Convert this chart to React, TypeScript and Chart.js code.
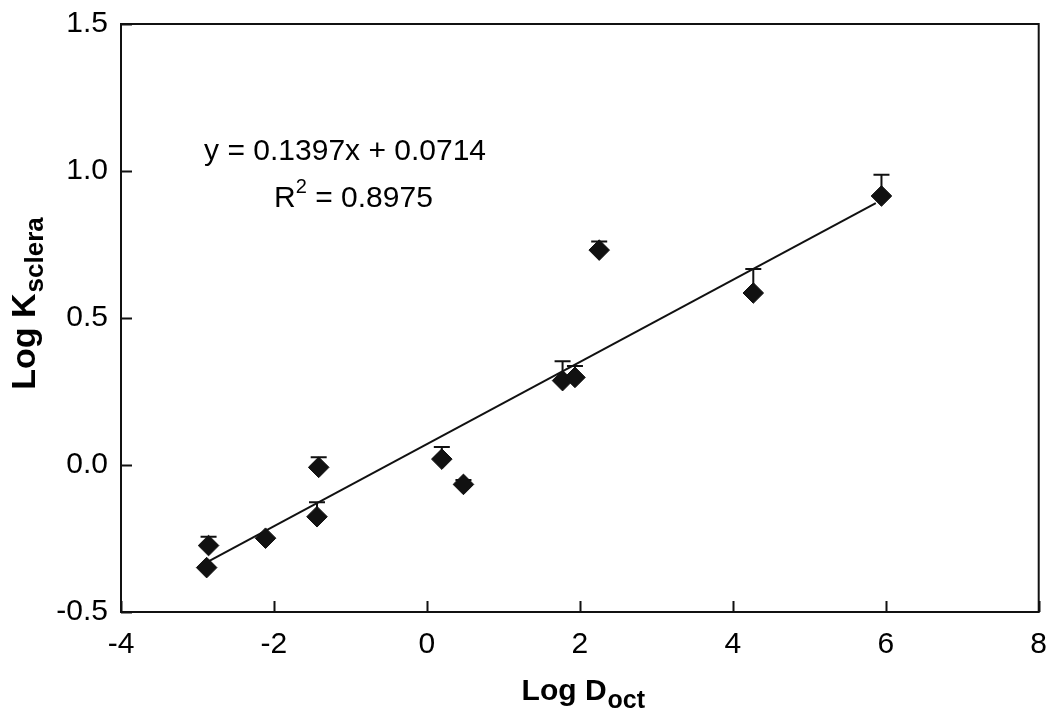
import React, { useEffect, useRef } from "react";
import { Chart, registerables } from "chart.js";

Chart.register(...registerables);

// ---- data ----
const pointsX = [-2.88, -2.855, -2.11, -1.437, -1.415, 0.195, 0.478, 1.774, 1.936, 2.253, 4.268, 5.944];
const pointsY = [-0.349, -0.274, -0.249, -0.176, -0.008, 0.02, -0.066, 0.287, 0.298, 0.731, 0.585, 0.915];
const errorTop: (number | null)[] = [null, -0.244, null, -0.127, 0.026, 0.061, -0.051, 0.353, 0.337, 0.76, 0.667, 0.987];
const trendX = [-2.85, 5.87];
const trendY = [-0.327, 0.891];
const xTicks = [-4, -2, 0, 2, 4, 6, 8];
const yTicks = [-0.5, 0, 0.5, 1.0, 1.5];
const equationText = "y = 0.1397x + 0.0714";
const r2Text = " = 0.8975";
const xTitleMain = "Log D";
const xTitleSub = "oct";
const yTitleMain = "Log K";
const yTitleSub = "sclera";

// ---- layout / style constants ----
const FONT = '"Liberation Sans", Arial, Helvetica, sans-serif';
const INK = "#111111";
const EQ_CENTER = { x: -1.07, y: 1.037 };
const R2_CENTER = { x: -0.96, y: 0.877 };

const zeroPad = (s: any) => {
  s.paddingLeft = 0;
  s.paddingRight = 0;
  s.paddingTop = 0;
  s.paddingBottom = 0;
};

const decorPlugin = {
  id: "decor",
  beforeDatasetsDraw(chart: any) {
    const ctx = chart.ctx;
    const xs = chart.scales.x;
    const ys = chart.scales.y;
    ctx.save();
    ctx.strokeStyle = INK;
    ctx.lineWidth = 2;
    for (let i = 0; i < pointsX.length; i++) {
      const top = errorTop[i];
      if (top === null) continue;
      const px = xs.getPixelForValue(pointsX[i]);
      const py = ys.getPixelForValue(pointsY[i]);
      const pt = ys.getPixelForValue(top);
      ctx.beginPath();
      ctx.moveTo(px, py);
      ctx.lineTo(px, pt);
      ctx.moveTo(px - 8, pt);
      ctx.lineTo(px + 8, pt);
      ctx.stroke();
    }
    ctx.restore();
  },
  afterDraw(chart: any) {
    const ctx = chart.ctx;
    const a = chart.chartArea;
    const xs = chart.scales.x;
    const ys = chart.scales.y;
    ctx.save();
    ctx.strokeStyle = INK;
    ctx.lineWidth = 2;
    ctx.strokeRect(a.left, a.top, a.right - a.left, a.bottom - a.top);
    // inward tick marks
    ctx.beginPath();
    for (const t of xs.ticks) {
      const px = Math.round(xs.getPixelForValue(t.value)) + 0.5;
      ctx.moveTo(px, a.bottom);
      ctx.lineTo(px, a.bottom - 11);
    }
    for (const t of ys.ticks) {
      const py = Math.round(ys.getPixelForValue(t.value)) + 0.5;
      ctx.moveTo(a.left, py);
      ctx.lineTo(a.left + 11, py);
    }
    ctx.stroke();

    ctx.fillStyle = "#000";
    ctx.textBaseline = "alphabetic";
    ctx.textAlign = "left";

    // x title
    ctx.font = `bold 30px ${FONT}`;
    const xw1 = ctx.measureText(xTitleMain).width;
    ctx.font = `bold 25px ${FONT}`;
    const xw2 = ctx.measureText(xTitleSub).width;
    const xc = (a.left + a.right) / 2 + 3;
    const xs0 = xc - (xw1 + xw2) / 2;
    ctx.font = `bold 30px ${FONT}`;
    ctx.fillText(xTitleMain, xs0, 700);
    ctx.font = `bold 25px ${FONT}`;
    ctx.fillText(xTitleSub, xs0 + xw1 + 1, 708);

    // y title (rotated)
    ctx.save();
    ctx.translate(35, 304);
    ctx.rotate(-Math.PI / 2);
    ctx.font = `bold 34px ${FONT}`;
    const yw1 = ctx.measureText(yTitleMain).width;
    ctx.font = `bold 26px ${FONT}`;
    const yw2 = ctx.measureText(yTitleSub).width;
    const ys0 = -(yw1 + yw2) / 2;
    ctx.font = `bold 34px ${FONT}`;
    ctx.fillText(yTitleMain, ys0, 0);
    ctx.font = `bold 26px ${FONT}`;
    ctx.fillText(yTitleSub, ys0 + yw1 + 1, 8);
    ctx.restore();

    // regression equation
    ctx.font = `30px ${FONT}`;
    ctx.textAlign = "center";
    ctx.fillText(equationText, xs.getPixelForValue(EQ_CENTER.x), ys.getPixelForValue(EQ_CENTER.y));
    ctx.textAlign = "left";
    ctx.font = `30px ${FONT}`;
    const rw = ctx.measureText("R").width;
    const rest = ctx.measureText(r2Text).width;
    ctx.font = `20px ${FONT}`;
    const sw = ctx.measureText("2").width;
    const total = rw + sw + rest;
    const rx = xs.getPixelForValue(R2_CENTER.x) - total / 2;
    const ry = ys.getPixelForValue(R2_CENTER.y);
    ctx.font = `30px ${FONT}`;
    ctx.fillText("R", rx, ry);
    ctx.font = `20px ${FONT}`;
    ctx.fillText("2", rx + rw, ry - 14);
    ctx.font = `30px ${FONT}`;
    ctx.fillText(r2Text, rx + rw + sw, ry);
    ctx.restore();
  },
};

export default function App() {
  const canvasRef = useRef<HTMLCanvasElement | null>(null);

  useEffect(() => {
    if (!canvasRef.current) return;
    const chart = new Chart(canvasRef.current, {
      type: "scatter",
      data: {
        datasets: [
          {
            label: "data",
            data: pointsX.map((x, i) => ({ x, y: pointsY[i] })),
            pointStyle: "rectRot",
            pointRadius: 10.3,
            pointHoverRadius: 10.3,
            backgroundColor: INK,
            borderColor: INK,
            borderWidth: 1,
          },
          {
            label: "fit",
            data: trendX.map((x, i) => ({ x, y: trendY[i] })),
            showLine: true,
            pointRadius: 0,
            borderColor: INK,
            borderWidth: 2,
            fill: false,
          },
        ],
      },
      options: {
        animation: false,
        responsive: true,
        maintainAspectRatio: false,
        layout: { padding: { top: 24, right: 9, left: 0, bottom: 0 } },
        plugins: { legend: { display: false }, tooltip: { enabled: false } },
        scales: {
          x: {
            type: "linear",
            min: -4,
            max: 8,
            grid: { display: false, drawTicks: false },
            border: { display: false },
            ticks: {
              color: "#000",
              font: { family: FONT, size: 30 },
              padding: 15,
              maxRotation: 0,
              autoSkip: false,
              callback: (v: any) => String(v),
            },
            afterBuildTicks: (s: any) => {
              s.ticks = xTicks.map((v) => ({ value: v }));
            },
            afterFit: (s: any) => {
              s.height = 105;
              zeroPad(s);
            },
          },
          y: {
            type: "linear",
            min: -0.5,
            max: 1.5,
            grid: { display: false, drawTicks: false },
            border: { display: false },
            ticks: {
              color: "#000",
              font: { family: FONT, size: 30 },
              padding: 13,
              autoSkip: false,
              callback: (v: any) => Number(v).toFixed(1),
            },
            afterBuildTicks: (s: any) => {
              s.ticks = yTicks.map((v) => ({ value: v }));
            },
            afterFit: (s: any) => {
              s.width = 121;
              zeroPad(s);
            },
          },
        },
      },
      plugins: [decorPlugin],
    });
    return () => chart.destroy();
  }, []);

  return (
    <div style={{ position: "fixed", left: 0, top: 0, width: 1050, height: 717, background: "#fff" }}>
      <canvas ref={canvasRef} />
    </div>
  );
}
